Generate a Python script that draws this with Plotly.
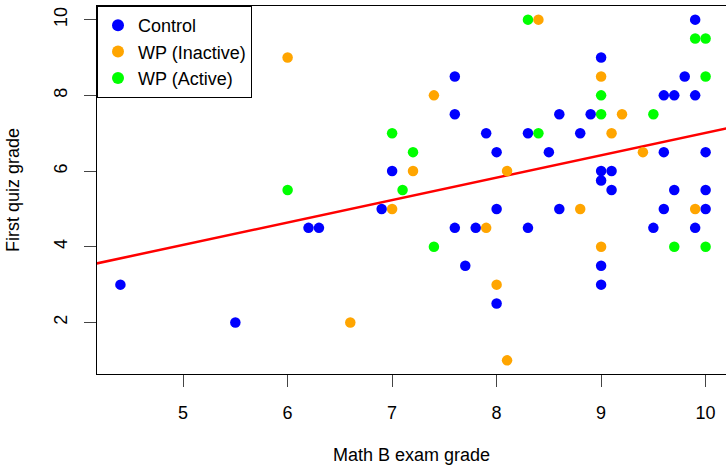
import plotly.graph_objects as go

# Data
control_x = [4.4, 5.5, 6.2, 6.3, 6.9, 7.0, 7.6, 7.6, 7.6, 7.7, 7.8, 7.9, 8.0, 8.0, 8.0,
             8.3, 8.3, 8.5, 8.6, 8.6, 8.8, 8.9, 9.0, 9.0, 9.0, 9.0, 9.0, 9.1, 9.1, 9.5,
             9.6, 9.7, 9.8, 9.9, 9.9, 9.6, 9.6, 9.7, 9.9, 10.0, 10.0, 10.0]
control_y = [3, 2, 4.5, 4.5, 5, 6, 8.5, 7.5, 4.5, 3.5, 4.5, 7, 6.5, 5, 2.5,
             7, 4.5, 6.5, 7.5, 5, 7, 7.5, 9, 6, 5.75, 3.5, 3, 6, 5.5, 4.5,
             8, 8, 8.5, 8, 10, 6.5, 5, 5.5, 4.5, 6.5, 5.5, 5]

inactive_x = [6.0, 6.6, 7.0, 7.2, 7.4, 7.9, 8.0, 8.1, 8.1, 8.4, 8.8, 9.0, 9.0, 9.1, 9.2, 9.4, 9.9]
inactive_y = [9, 2, 5, 6, 8, 4.5, 3, 6, 1, 10, 5, 8.5, 4, 7, 7.5, 6.5, 5]

active_x = [6.0, 7.0, 7.1, 7.2, 7.4, 8.3, 8.4, 9.0, 9.0, 9.5, 9.7, 9.9, 10.0, 10.0, 10.0]
active_y = [5.5, 7, 5.5, 6.5, 4, 10, 7, 8, 7.5, 7.5, 4, 9.5, 9.5, 8.5, 4]

fit_intercept = 1.09
fit_slope = 0.592

x_ticks = [5, 6, 7, 8, 9, 10]
y_ticks = [2, 4, 6, 8, 10]

FONT = "Liberation Sans, Arial, Helvetica, sans-serif"
MS = 10.5

fig = go.Figure()

line_x = [4.0, 10.5]
line_y = [fit_intercept + fit_slope * v for v in line_x]
fig.add_trace(go.Scatter(x=line_x, y=line_y, mode="lines",
                         line=dict(color="#FF0000", width=2.5),
                         showlegend=False, hoverinfo="skip"))

for name, xs, ys, col in [("Control", control_x, control_y, "#0000FF"),
                          ("WP (Inactive)", inactive_x, inactive_y, "#FFA500"),
                          ("WP (Active)", active_x, active_y, "#00FF00")]:
    fig.add_trace(go.Scatter(x=xs, y=ys, mode="markers", name=name,
                             marker=dict(color=col, size=MS, line=dict(width=0))))

fig.update_layout(
    width=726, height=465,
    margin=dict(l=97, r=0, t=6, b=91, autoexpand=False),
    paper_bgcolor="white", plot_bgcolor="white",
    font=dict(family=FONT, size=18, color="black"),
    showlegend=True,
    legend=dict(x=0, y=1, xanchor="left", yanchor="top",
                bordercolor="black", borderwidth=1, bgcolor="white",
                font=dict(size=18), itemsizing="constant",
                tracegroupgap=0),
    xaxis=dict(range=[4.176, 10.195], tickvals=x_ticks, ticktext=[str(v) for v in x_ticks],
               showgrid=False, zeroline=False, showline=True, linecolor="black", linewidth=1.3,
               mirror=True, ticks="outside", ticklen=12, tickcolor="#444", tickwidth=1.3,
               ticklabelstandoff=10,
               title=dict(text="Math B exam grade", standoff=29, font=dict(size=18))),
    yaxis=dict(range=[0.64, 10.36], tickvals=y_ticks, ticktext=[str(v) for v in y_ticks],
               showgrid=False, zeroline=False, showline=True, linecolor="black", linewidth=1.3,
               mirror=False, ticks="outside", ticklen=12, tickcolor="#444", tickwidth=1.3,
               tickangle=-90, ticklabelstandoff=10,
               title=dict(text="First quiz grade", standoff=26, font=dict(size=18))),
)

fig.write_html("out.html", config={"displayModeBar": False},
               post_script="document.body.style.margin='0px';document.body.style.overflow='hidden';")
